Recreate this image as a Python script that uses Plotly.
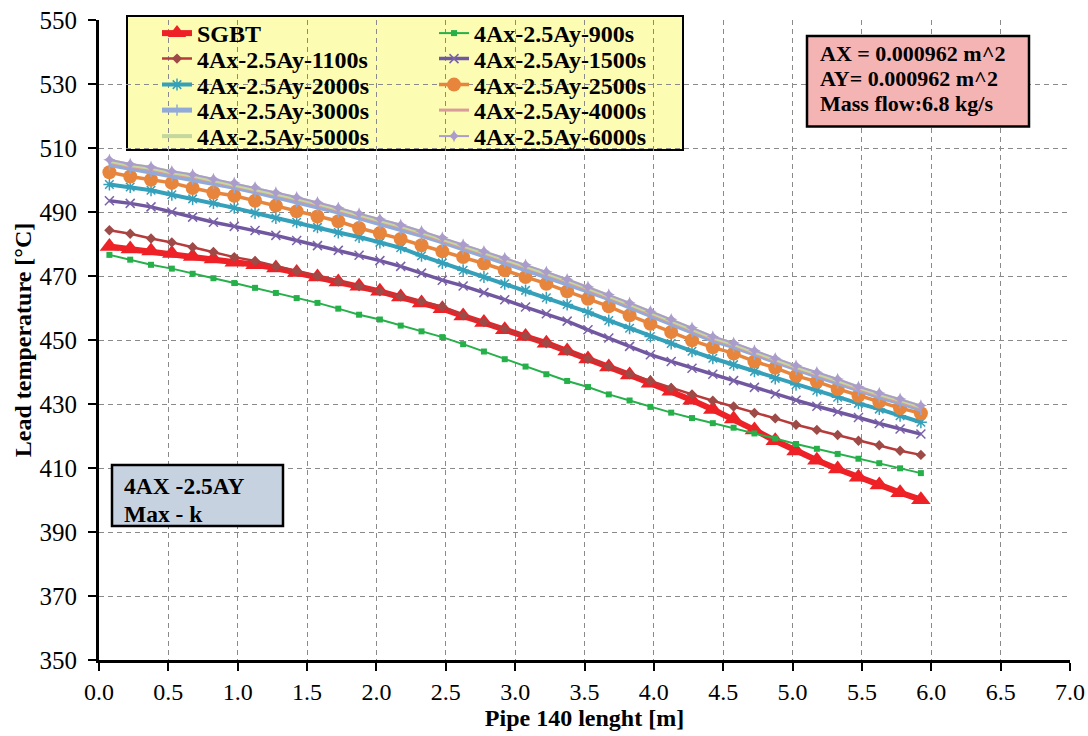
import plotly.graph_objects as go

# ---------------- data ----------------
x_len = [0.075, 0.225, 0.375, 0.525, 0.675, 0.825, 0.975, 1.125, 1.275, 1.425,
         1.575, 1.725, 1.875, 2.025, 2.175, 2.325, 2.475, 2.625, 2.775, 2.925,
         3.075, 3.225, 3.375, 3.525, 3.675, 3.825, 3.975, 4.125, 4.275, 4.425,
         4.575, 4.725, 4.875, 5.025, 5.175, 5.325, 5.475, 5.625, 5.775, 5.925]

sgbt = [479.2, 478.4, 477.8, 477.0, 476.1, 475.3, 474.3, 473.5, 472.5, 471.1,
        469.7, 468.1, 466.8, 465.2, 463.4, 461.6, 459.8, 457.5, 455.5, 453.2,
        451.1, 449.0, 446.6, 444.1, 441.6, 439.1, 436.5, 434.0, 431.2, 428.3,
        425.3, 421.9, 418.5, 415.3, 412.4, 409.7, 407.1, 404.7, 402.3, 400.1]

s900 = [476.6, 475.1, 473.5, 472.3, 470.7, 469.3, 467.8, 466.3, 464.7, 463.1,
        461.6, 459.8, 457.9, 456.4, 454.5, 452.7, 450.9, 448.7, 446.4, 444.0,
        441.7, 439.3, 437.2, 435.3, 433.0, 431.1, 429.1, 427.3, 425.6, 424.0,
        422.6, 420.8, 419.2, 417.5, 416.0, 414.4, 412.9, 411.5, 409.9, 408.4]

s1100 = [484.3, 483.2, 481.7, 480.5, 479.0, 477.5, 475.9, 474.7, 473.0, 471.5,
         469.9, 468.3, 466.8, 465.2, 463.6, 462.1, 460.4, 457.7, 455.6, 453.4,
         451.2, 449.0, 446.6, 444.1, 441.7, 439.3, 437.2, 435.0, 433.0, 431.0,
         429.2, 427.2, 425.5, 423.5, 421.9, 420.3, 418.5, 417.1, 415.4, 414.1]

s1500 = [493.5, 492.7, 491.6, 490.0, 488.4, 486.8, 485.5, 484.2, 482.7, 481.1,
         479.5, 478.0, 476.5, 474.8, 473.0, 470.9, 468.7, 466.9, 464.8, 462.6,
         460.3, 458.2, 455.9, 453.2, 450.6, 448.0, 445.4, 443.3, 441.2, 439.3,
         437.3, 435.2, 433.1, 431.2, 429.3, 427.6, 425.8, 423.9, 422.2, 420.6]

s2000 = [498.6, 497.8, 496.8, 495.4, 494.1, 492.8, 491.3, 489.7, 488.1, 486.8,
         485.2, 483.6, 482.2, 480.5, 478.8, 476.3, 474.1, 471.8, 469.7, 467.6,
         465.5, 463.2, 461.1, 458.7, 456.1, 453.7, 451.1, 448.9, 446.5, 444.3,
         442.3, 440.2, 438.0, 436.0, 434.2, 432.1, 430.2, 428.4, 426.3, 424.3]

s2500 = [502.4, 501.1, 500.1, 499.1, 497.5, 496.1, 495.1, 493.5, 492.0, 490.2,
         488.6, 487.1, 485.0, 483.4, 481.6, 479.6, 477.7, 475.9, 473.9, 471.8,
         469.7, 467.6, 465.2, 462.9, 460.5, 457.7, 455.1, 452.5, 449.9, 447.7,
         445.8, 443.3, 441.3, 438.8, 437.0, 434.7, 432.6, 430.7, 428.7, 427.1]

s3000 = [504.8, 503.6, 502.7, 501.3, 500.3, 498.9, 497.7, 496.3, 494.8, 493.3,
         491.7, 490.0, 488.2, 486.5, 484.7, 482.7, 480.7, 478.5, 476.4, 474.3,
         472.2, 470.0, 467.7, 465.3, 462.9, 460.3, 457.8, 455.3, 452.6, 449.9,
         447.9, 445.5, 443.1, 440.8, 438.7, 436.6, 434.2, 432.2, 430.4, 428.3]

s4000 = [505.5, 504.2, 503.3, 501.9, 500.9, 499.5, 498.3, 496.9, 495.3, 493.8,
         492.2, 490.5, 488.7, 487.0, 485.2, 483.2, 481.2, 479.0, 476.9, 474.8,
         472.7, 470.5, 468.2, 465.8, 463.4, 460.8, 458.2, 455.7, 453.0, 450.3,
         448.3, 445.9, 443.5, 441.2, 439.1, 437.0, 434.6, 432.6, 430.8, 428.7]

s5000 = [506.0, 504.7, 503.8, 502.4, 501.4, 500.0, 498.8, 497.4, 495.8, 494.3,
         492.7, 491.0, 489.2, 487.5, 485.7, 483.7, 481.7, 479.5, 477.4, 475.3,
         473.2, 471.0, 468.7, 466.3, 463.9, 461.3, 458.7, 456.2, 453.5, 450.8,
         448.8, 446.4, 444.0, 441.7, 439.6, 437.5, 435.1, 433.1, 431.3, 429.2]

s6000 = [506.3, 505.0, 504.1, 502.7, 501.7, 500.3, 499.1, 497.7, 496.1, 494.6,
         493.0, 491.3, 489.5, 487.8, 486.0, 484.0, 482.0, 479.8, 477.7, 475.6,
         473.5, 471.3, 469.0, 466.6, 464.2, 461.6, 459.0, 456.5, 453.8, 451.1,
         449.1, 446.7, 444.3, 442.0, 439.9, 437.8, 435.4, 433.4, 431.6, 429.5]

series_names = ["SGBT", "4Ax-2.5Ay-900s", "4Ax-2.5Ay-1100s", "4Ax-2.5Ay-1500s",
                "4Ax-2.5Ay-2000s", "4Ax-2.5Ay-2500s", "4Ax-2.5Ay-3000s",
                "4Ax-2.5Ay-4000s", "4Ax-2.5Ay-5000s", "4Ax-2.5Ay-6000s"]
series_values = [sgbt, s900, s1100, s1500, s2000, s2500, s3000, s4000, s5000, s6000]

x_ticks = [0.0, 0.5, 1.0, 1.5, 2.0, 2.5, 3.0, 3.5, 4.0, 4.5, 5.0, 5.5, 6.0, 6.5, 7.0]
y_ticks = [350, 370, 390, 410, 430, 450, 470, 490, 510, 530, 550]

info_lines = ["AX = 0.000962 m^2", "AY= 0.000962 m^2", "Mass flow:6.8 kg/s"]
case_lines = ["4AX -2.5AY", "Max - k"]

# ---------------- styles ----------------
FONT = "Liberation Serif, Times New Roman, serif"
styles = [
    dict(line=dict(color="#EE2127", width=6), marker=dict(symbol="triangle-up", size=17, color="#EE2127")),
    dict(line=dict(color="#25B04A", width=2), marker=dict(symbol="square", size=6, color="#25B04A")),
    dict(line=dict(color="#B83A3A", width=2.5), marker=dict(symbol="diamond", size=8, color="#9E4A47")),
    dict(line=dict(color="#7057A0", width=3.5), marker=dict(symbol="x-thin-open", size=9, color="#7A62AA", line=dict(width=1.5, color="#7A62AA"))),
    dict(line=dict(color="#35A0BA", width=4), marker=dict(symbol="asterisk-open", size=10, color="#35A0BA", line=dict(width=1.5, color="#35A0BA"))),
    dict(line=dict(color="#E8853D", width=3.5), marker=dict(symbol="circle", size=14, color="#E8853D")),
    dict(line=dict(color="#90AADA", width=5), marker=dict(symbol="line-ns-open", size=8, color="#90AADA", line=dict(width=1.5, color="#90AADA"))),
    dict(line=dict(color="#D99C9A", width=3), marker=dict(symbol="circle", size=1, opacity=0)),
    dict(line=dict(color="#C4D79D", width=4), marker=dict(symbol="circle", size=1, opacity=0)),
    dict(line=dict(color="#AB9DCB", width=2), marker=dict(symbol="star-diamond", size=9, color="#AB9DCB")),
]

# plot-area geometry in pixels (used only for placing boxes/legends)
W, H = 1088, 736
L, R, T, B = 99, 18, 20, 76
PW, PH = W - L - R, H - T - B


def px(xp):
    return (xp - L) / PW


def py(yp):
    return (H - B - yp) / PH


fig = go.Figure()
legend_keys = ["legend"] + ["legend%d" % i for i in range(2, 11)]
for i, (nm, vals) in enumerate(zip(series_names, series_values)):
    st = styles[i]
    mode = "lines" if i in (7, 8) else "lines+markers"
    fig.add_trace(go.Scatter(x=x_len, y=vals, name=nm, mode=mode,
                             line=st["line"], marker=st["marker"],
                             legend=legend_keys[i], showlegend=True))

# legends: 2 columns x 5 rows, row-major order
col_x = [157, 434]
row_y = [33.5, 59, 85, 110.5, 136.5]
legend_layout = {}
for i, key in enumerate(legend_keys):
    r, c = divmod(i, 2)
    legend_layout[key] = dict(
        x=px(col_x[c]), y=py(row_y[r]), xanchor="left", yanchor="middle",
        bgcolor="rgba(0,0,0,0)", borderwidth=0, itemwidth=30,
        font=dict(family=FONT, size=24, color="black", weight="bold"),
    )

shapes = [
    # legend background box
    dict(type="rect", xref="paper", yref="paper", x0=px(127), x1=px(683), y0=py(150), y1=py(16),
         fillcolor="#FCFCB2", line=dict(color="black", width=2), layer="below"),
    # info box (top right)
    dict(type="rect", xref="paper", yref="paper", x0=px(807), x1=px(1029), y0=py(126.5), y1=py(36),
         fillcolor="#F5B4B4", line=dict(color="black", width=2.5), layer="above"),
    # case box (bottom left)
    dict(type="rect", xref="paper", yref="paper", x0=px(112), x1=px(283), y0=py(526), y1=py(465),
         fillcolor="#C6D2DF", line=dict(color="black", width=2.5), layer="above"),
]

annotations = []
for k, t in enumerate(info_lines):
    annotations.append(dict(text=t, xref="paper", yref="paper", x=px(818), y=py(54 + 25 * k),
                            xanchor="left", yanchor="middle", showarrow=False,
                            font=dict(family=FONT, size=22, color="black", weight="bold")))
for k, t in enumerate(case_lines):
    annotations.append(dict(text=t, xref="paper", yref="paper", x=px(122), y=py(486 + 28 * k),
                            xanchor="left", yanchor="middle", showarrow=False,
                            font=dict(family=FONT, size=23.5, color="black", weight="bold")))

grid = dict(showgrid=True, gridcolor="#8A8A8A", gridwidth=1.2, griddash="5px,4px")

fig.update_layout(
    width=W, height=H,
    margin=dict(l=L, r=R, t=T, b=B, autoexpand=False),
    showlegend=True,
    paper_bgcolor="white", plot_bgcolor="white",
    font=dict(family=FONT, color="black"),
    shapes=shapes, annotations=annotations,
    **legend_layout,
    xaxis=dict(range=[0, 7], tickvals=x_ticks, ticktext=["%.1f" % v for v in x_ticks],
               showline=True, linecolor="black", linewidth=3, ticks="outside", ticklen=8,
               tickwidth=2, tickcolor="black", tickfont=dict(family=FONT, size=24, color="black"),
               ticklabelstandoff=0, zeroline=False, automargin=False,
               title=dict(text="Pipe 140 lenght [m]", standoff=0,
                          font=dict(family=FONT, size=24, color="black", weight="bold")),
               **grid),
    yaxis=dict(range=[350, 550], tickvals=y_ticks, ticktext=[str(v) for v in y_ticks],
               showline=True, linecolor="black", linewidth=3, ticks="outside", ticklen=8,
               tickwidth=2, tickcolor="black", tickfont=dict(family=FONT, size=25, color="black"),
               ticklabelstandoff=6, zeroline=False, automargin=False,
               title=dict(text="Lead temperature [°C]", standoff=2,
                          font=dict(family=FONT, size=24, color="black", weight="bold")),
               **grid),
)

fig.write_html("out.html", config={"displayModeBar": False},
               post_script="document.body.style.margin='0px';document.body.style.overflow='hidden';")
